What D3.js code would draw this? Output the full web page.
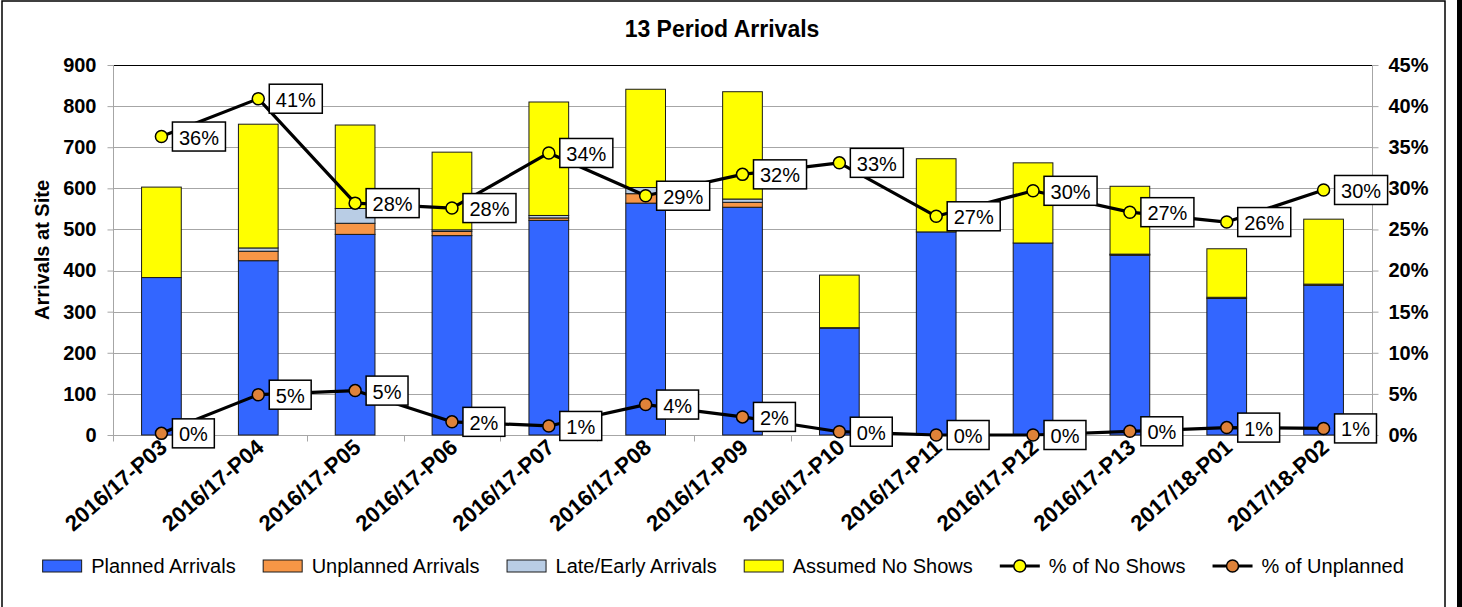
<!DOCTYPE html>
<html>
<head>
<meta charset="utf-8">
<script src="https://cdn.jsdelivr.net/npm/d3@7"></script>
<style>
  html, body { margin: 0; padding: 0; background: #fff; }
  svg { display: block; font-family: Arial, "Liberation Sans", sans-serif; }
</style>
</head>
<body>
<svg id="chart" width="1462" height="607"></svg>
<script>
// ---------- data ----------
const categories = ["2016/17-P03", "2016/17-P04", "2016/17-P05", "2016/17-P06", "2016/17-P07",
  "2016/17-P08", "2016/17-P09", "2016/17-P10", "2016/17-P11", "2016/17-P12", "2016/17-P13",
  "2017/18-P01", "2017/18-P02"];
const plannedArrivals   = [383, 424, 488, 485, 522, 564, 554, 260, 494, 467, 437, 332, 364];
const unplannedArrivals = [0, 23, 27, 10, 6, 23, 12, 1, 0, 0, 2, 3, 3];
const lateEarlyArrivals = [0, 8, 36, 4, 6, 15, 8, 0, 0, 0, 1, 0, 0];
const assumedNoShows    = [220, 301, 203, 189, 276, 239, 261, 128, 178, 195, 165, 118, 158];
const pctNoShows        = [36.3, 40.9, 28.2, 27.6, 34.3, 29.1, 31.7, 33.1, 26.6, 29.7, 27.1, 25.9, 29.8];
const pctUnplanned      = [0.2, 4.9, 5.4, 1.6, 1.1, 3.7, 2.2, 0.4, 0.0, 0.0, 0.45, 0.9, 0.8];
const leftTicks  = [0, 100, 200, 300, 400, 500, 600, 700, 800, 900];
const rightTicks = [0, 5, 10, 15, 20, 25, 30, 35, 40, 45];
const seriesNames = ["Planned Arrivals", "Unplanned Arrivals", "Late/Early Arrivals", "Assumed No Shows"];
const lineNames = ["% of No Shows", "% of Unplanned"];
const chartTitle = "13 Period Arrivals";
const yTitle = "Arrivals at Site";

// ---------- style ----------
const barColors = ["#3366FF", "#F79646", "#B9CDE5", "#FFFF00"];
const markerColors = ["#FFFF00", "#DE8239"];
const gridColor = "#A6A6A6";
const FONT = 'Arial, "Liberation Sans", sans-serif';

const svg = d3.select("#chart");
const W = 1462, H = 607;
const plot = { left: 113, right: 1372, top: 65, bottom: 435 };

// frame
svg.append("rect").attr("x", 2).attr("y", 1).attr("width", 1443).attr("height", 620)
  .attr("fill", "none").attr("stroke", "#000").attr("stroke-width", 1.5);
svg.append("rect").attr("x", 1457).attr("y", 0).attr("width", 5).attr("height", H).attr("fill", "#000");

// scales
const x = d3.scaleBand().domain(categories).range([plot.left, plot.right]).paddingInner(0).paddingOuter(0);
const y = d3.scaleLinear().domain([0, 900]).range([plot.bottom, plot.top]);
const y2 = d3.scaleLinear().domain([0, 45]).range([plot.bottom, plot.top]);
const barW = x.bandwidth() * 0.41;

// gridlines
svg.append("g").selectAll("line").data(leftTicks).join("line")
  .attr("x1", plot.left).attr("x2", plot.right)
  .attr("y1", d => Math.round(y(d)) + 0.5).attr("y2", d => Math.round(y(d)) + 0.5)
  .attr("stroke", d => d === 900 ? "#000" : gridColor).attr("stroke-width", 1);

// left axis
const gL = svg.append("g").attr("transform", `translate(${plot.left + 0.5},0)`)
  .call(d3.axisLeft(y).tickValues(leftTicks).tickSize(6).tickPadding(11).tickFormat(d3.format("d")));
gL.select(".domain").attr("stroke", gridColor).attr("d", `M0,${plot.top}V${plot.bottom + 6}`);
gL.selectAll(".tick line").attr("stroke", gridColor);
gL.selectAll(".tick text").attr("font-family", FONT).attr("font-size", 20).attr("font-weight", "bold").attr("fill", "#000");

// right axis
const gR = svg.append("g").attr("transform", `translate(${plot.right + 0.5},0)`)
  .call(d3.axisRight(y2).tickValues(rightTicks).tickSize(6).tickPadding(10).tickFormat(d => d + "%"));
gR.select(".domain").attr("stroke", gridColor).attr("d", `M0,${plot.top}V${plot.bottom}`);
gR.selectAll(".tick line").attr("stroke", gridColor);
gR.selectAll(".tick text").attr("font-family", FONT).attr("font-size", 20).attr("font-weight", "bold").attr("fill", "#000");

// x axis
const gX = svg.append("g").attr("transform", `translate(0,${plot.bottom + 0.5})`);
gX.append("line").attr("x1", plot.left).attr("x2", plot.right).attr("stroke", gridColor);
const boundaries = categories.map(c => x(c)).concat([plot.right]);
gX.selectAll("line.tk").data(boundaries).join("line").attr("class", "tk")
  .attr("x1", d => Math.round(d) + 0.5).attr("x2", d => Math.round(d) + 0.5)
  .attr("y1", 0).attr("y2", 6).attr("stroke", gridColor);
gX.selectAll("text").data(categories).join("text")
  .attr("transform", d => `translate(${x(d) + x.bandwidth() / 2 + 7},${14}) rotate(-41)`)
  .attr("text-anchor", "end")
  .attr("font-family", FONT).attr("font-size", 22).attr("font-weight", "bold").attr("fill", "#000")
  .text(d => d);

// stacked bars
const stackData = categories.map((c, i) => ({
  cat: c, s0: plannedArrivals[i], s1: unplannedArrivals[i], s2: lateEarlyArrivals[i], s3: assumedNoShows[i]
}));
const stack = d3.stack().keys(["s0", "s1", "s2", "s3"])(stackData);
const gBars = svg.append("g");
stack.forEach((layer, li) => {
  gBars.append("g").selectAll("rect").data(layer.filter(d => d[1] - d[0] > 0)).join("rect")
    .attr("x", d => x(d.data.cat) + (x.bandwidth() - barW) / 2)
    .attr("width", barW)
    .attr("y", d => y(d[1]))
    .attr("height", d => y(d[0]) - y(d[1]))
    .attr("fill", barColors[li])
    .attr("stroke", "#1a1a1a").attr("stroke-width", 1);
});

// lines
const cx = c => x(c) + x.bandwidth() / 2;
const lineSeries = [pctNoShows, pctUnplanned];
const lineGen = d3.line().x(d => cx(d.c)).y(d => y2(d.v));
lineSeries.forEach(vals => {
  const pts = categories.map((c, i) => ({ c, v: vals[i] }));
  svg.append("path").datum(pts).attr("d", lineGen)
    .attr("fill", "none").attr("stroke", "#000").attr("stroke-width", 3.2).attr("stroke-linejoin", "round");
});
lineSeries.forEach((vals, si) => {
  svg.append("g").selectAll("circle").data(categories).join("circle")
    .attr("cx", d => cx(d)).attr("cy", (d, i) => y2(vals[i])).attr("r", 6)
    .attr("fill", markerColors[si]).attr("stroke", "#000").attr("stroke-width", 1.5);
});

// data labels
const gLab = svg.append("g");
lineSeries.forEach(vals => {
  categories.forEach((c, i) => {
    const g = gLab.append("g");
    const t = g.append("text").attr("font-family", FONT).attr("font-size", 20).attr("fill", "#000")
      .attr("text-anchor", "middle").attr("dy", "0.35em").text(Math.round(vals[i]) + "%");
    const tw = t.node().getComputedTextLength();
    const bw = tw + 13, bh = 29;
    const bx = cx(c) + 11, by = y2(vals[i]) - bh / 2;
    g.insert("rect", "text").attr("x", bx).attr("y", by).attr("width", bw).attr("height", bh)
      .attr("fill", "#fff").attr("stroke", "#000").attr("stroke-width", 1.5);
    t.attr("x", bx + bw / 2).attr("y", by + bh / 2 + 1);
  });
});

// title
svg.append("text").attr("x", 722).attr("y", 37).attr("text-anchor", "middle")
  .attr("font-family", FONT).attr("font-size", 23).attr("font-weight", "bold").text(chartTitle);
svg.append("text").attr("transform", `translate(49,${(plot.top + plot.bottom) / 2}) rotate(-90)`)
  .attr("text-anchor", "middle").attr("font-family", FONT).attr("font-size", 20).attr("font-weight", "bold")
  .text(yTitle);

// legend
const legend = svg.append("g");
const items = seriesNames.map((n, i) => ({ name: n, type: "bar", color: barColors[i] }))
  .concat(lineNames.map((n, i) => ({ name: n, type: "line", color: markerColors[i] })));
let lx = 0;
const ly = 566, gap = 27;
items.forEach(it => {
  const g = legend.append("g").attr("transform", `translate(${lx},0)`);
  if (it.type === "bar") {
    g.append("rect").attr("x", 0.5).attr("y", ly - 6).attr("width", 39).attr("height", 12)
      .attr("fill", it.color).attr("stroke", "#1a1a1a").attr("stroke-width", 1);
  } else {
    g.append("line").attr("x1", 0).attr("x2", 40).attr("y1", ly).attr("y2", ly)
      .attr("stroke", "#000").attr("stroke-width", 3.2);
    g.append("circle").attr("cx", 20).attr("cy", ly).attr("r", 6)
      .attr("fill", it.color).attr("stroke", "#000").attr("stroke-width", 1.5);
  }
  const t = g.append("text").attr("x", 49).attr("y", ly).attr("dy", "0.35em")
    .attr("font-family", FONT).attr("font-size", 20).attr("fill", "#000").text(it.name);
  lx += 49 + t.node().getComputedTextLength() + gap;
});
const totalW = lx - gap;
legend.attr("transform", `translate(${723 - totalW / 2},0)`);
</script>
</body>
</html>
